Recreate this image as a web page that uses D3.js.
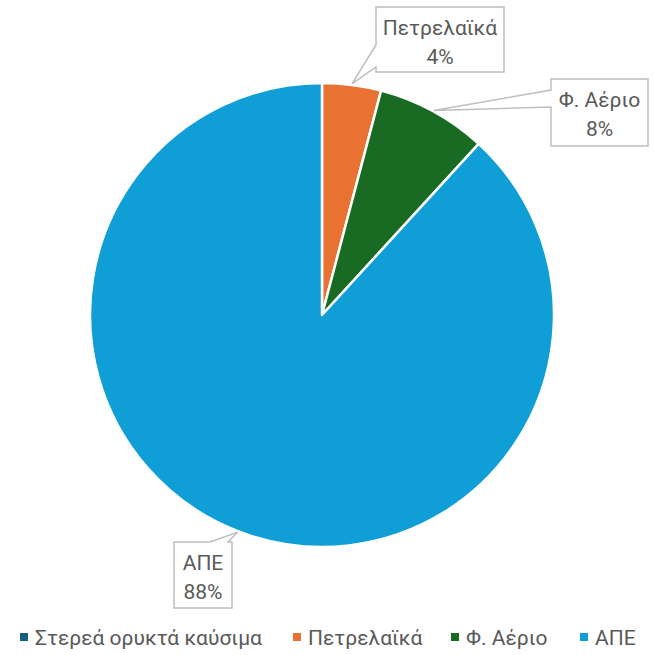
<!DOCTYPE html>
<html><head><meta charset="utf-8">
<script src="https://cdn.jsdelivr.net/npm/d3@7"></script>
<style>html,body{margin:0;padding:0;background:#fff;}svg{display:block;}</style>
</head><body>
<svg id="chart" width="654" height="655"></svg>
<script>
const categories = ["Στερεά ορυκτά καύσιμα", "Πετρελαϊκά", "Φ. Αέριο", "ΑΠΕ"];
const values = [0, 4.1, 7.7, 88.2];
const colors = ["#156082", "#E97132", "#196B24", "#0F9ED5"];

const svg = d3.select("#chart");
const cx = 322, cy = 315, R = 232;
const FONT = "Roboto, 'Noto Sans', sans-serif";
const FS = 21;
const textColor = "#595959";

const data = categories.map((c, i) => ({name: c, value: values[i], color: colors[i]}));
const pie = d3.pie().value(d => d.value).sort(null);
const arcs = pie(data);
const arc = d3.arc().innerRadius(0).outerRadius(R);

const g = svg.append("g").attr("transform", `translate(${cx},${cy})`);
g.selectAll("path.slice").data(arcs.filter(a => a.data.value > 0)).join("path")
  .attr("class", "slice")
  .attr("d", arc)
  .attr("fill", d => d.data.color)
  .attr("stroke", "#fff")
  .attr("stroke-width", 2.5)
  .attr("stroke-linejoin", "round");

const total = d3.sum(values);
const callouts = {
  "Πετρελαϊκά": {x: 376, y: 7, w: 128, h: 65, side: "left", b0: 45, b1: 67},
  "Φ. Αέριο": {x: 551, y: 79, w: 97, h: 67, side: "left", b0: 90, b1: 107},
  "ΑΠΕ": {x: 174, y: 542, w: 58, h: 66, side: "top", b0: 210, b1: 228}
};

arcs.forEach(a => {
  const c = callouts[a.data.name];
  if (!c) return;
  const mid = (a.startAngle + a.endAngle) / 2;
  const tx = cx + Math.sin(mid) * (R + 1);
  const ty = cy - Math.cos(mid) * (R + 1);
  const x0 = c.x, y0 = c.y, x1 = c.x + c.w, y1 = c.y + c.h;
  let pts;
  if (c.side === "left") {
    pts = [[x0, y0], [x1, y0], [x1, y1], [x0, y1], [x0, c.b1], [tx, ty], [x0, c.b0]];
  } else {
    pts = [[x0, y0], [c.b0, y0], [tx, ty], [c.b1, y0], [x1, y0], [x1, y1], [x0, y1]];
  }
  svg.append("path")
    .attr("d", d3.line()(pts) + "Z")
    .attr("fill", "#fff")
    .attr("stroke", "#BFBFBF")
    .attr("stroke-width", 1.5);
  const pct = Math.round(a.data.value / total * 100) + "%";
  const t = svg.append("text")
    .attr("text-anchor", "middle")
    .attr("font-family", FONT)
    .attr("font-size", FS)
    .attr("fill", textColor);
  t.append("tspan").attr("x", c.x + c.w / 2).attr("y", c.y + 28).text(a.data.name);
  t.append("tspan").attr("x", c.x + c.w / 2).attr("y", c.y + 57).text(pct);
});

// legend
const legendX = [20, 293, 451, 580];
const lg = svg.append("g");
data.forEach((d, i) => {
  const item = lg.append("g").attr("transform", `translate(${legendX[i]},0)`);
  item.append("rect").attr("x", 0).attr("y", 633).attr("width", 8).attr("height", 8).attr("fill", d.color);
  item.append("text").attr("x", 15).attr("y", 645)
    .attr("font-family", FONT).attr("font-size", FS).attr("fill", textColor)
    .text(d.name);
});
</script>
</body></html>
